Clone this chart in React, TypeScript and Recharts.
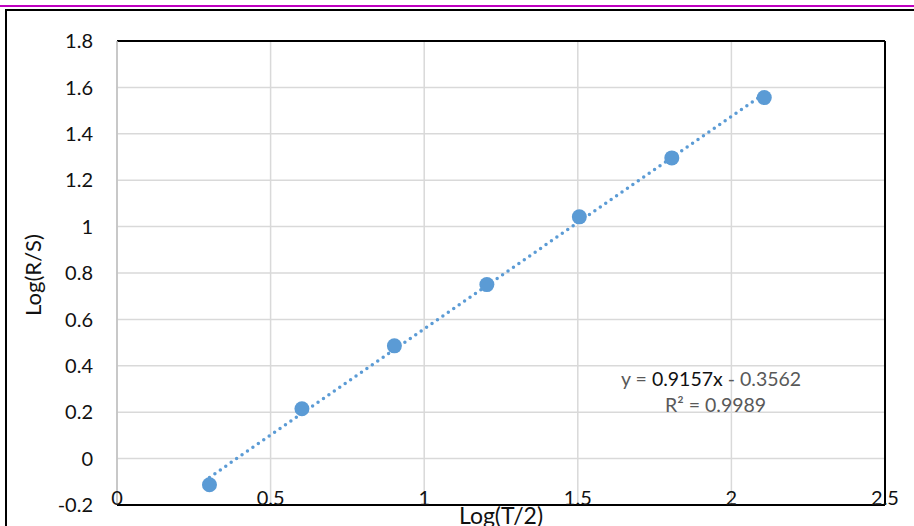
import React from "react";
import {
  ScatterChart,
  Scatter,
  XAxis,
  YAxis,
  CartesianGrid,
  ReferenceLine,
} from "recharts";

const logT2 = [0.301, 0.602, 0.903, 1.204, 1.505, 1.806, 2.107];
const logRS = [-0.113, 0.215, 0.486, 0.75, 1.042, 1.296, 1.556];

// trendline end points
const trendX = [0.301, 2.107];
const trendY = [-0.081, 1.573];

const xTicks = [0, 0.5, 1, 1.5, 2, 2.5];
const yTicks = [-0.2, 0, 0.2, 0.4, 0.6, 0.8, 1, 1.2, 1.4, 1.6, 1.8];

const BLUE = "#5B9BD5";
const FONT = "Lato, 'Open Sans', sans-serif";

const points = logT2.map((x, i) => ({ x, y: logRS[i] }));
const trend = trendX.map((x, i) => ({ x, y: trendY[i] }));

function XTick({ x, y, payload }: any) {
  return (
    <text x={x} y={y} textAnchor="middle" fontSize={20} fill="#111" fontFamily={FONT}>
      {payload.value}
    </text>
  );
}

function Dot(props: any) {
  return <circle cx={props.cx} cy={props.cy} r={7.5} fill={BLUE} />;
}

export default function App() {
  return (
    <div
      style={{
        position: "fixed",
        left: 0,
        top: 0,
        width: 914,
        height: 526,
        background: "#fff",
        overflow: "hidden",
        fontFamily: FONT,
      }}
    >
      <div
        style={{
          position: "absolute",
          left: 0,
          top: 5,
          width: 914,
          borderTop: "2px solid #c000c0",
        }}
      />
      <div
        style={{
          position: "absolute",
          left: 5,
          top: 9,
          width: 940,
          height: 560,
          borderLeft: "2px solid #000",
          borderTop: "2px solid #000",
        }}
      />
      <div style={{ position: "absolute", left: 0, top: 0 }}>
        <ScatterChart
          width={914}
          height={526}
          margin={{ top: 41, right: 29, bottom: 0, left: 0 }}
        >
          <CartesianGrid stroke="#d9d9d9" strokeWidth={1.5} />
          <XAxis
            type="number"
            dataKey="x"
            domain={[0, 2.5]}
            ticks={xTicks}
            height={21}
            axisLine={{ stroke: "#000", strokeWidth: 2 }}
            tickLine={false}
            tickSize={0}
            tickMargin={0}
            tick={<XTick />}
            interval={0}
          />
          <YAxis
            type="number"
            dataKey="y"
            domain={[-0.2, 1.8]}
            ticks={yTicks}
            width={117}
            axisLine={{ stroke: "#bfbfbf", strokeWidth: 1.5 }}
            tickLine={false}
            tickSize={0}
            tickMargin={24}
            tick={{ fontSize: 20, fill: "#111", fontFamily: FONT }}
            interval={0}
          />
          <ReferenceLine y={1.8} stroke="#000" strokeWidth={2} />
          <ReferenceLine x={2.5} stroke="#000" strokeWidth={2} />
          <Scatter
            data={trend}
            line={{
              stroke: BLUE,
              strokeWidth: 3.5,
              strokeDasharray: "0 6.6",
              strokeLinecap: "round",
            }}
            shape={() => <g />}
            isAnimationActive={false}
          />
          <Scatter data={points} shape={<Dot />} isAnimationActive={false} />
        </ScatterChart>
      </div>
      <div
        style={{
          position: "absolute",
          left: 0,
          width: 1002,
          top: 502,
          textAlign: "center",
          fontSize: 23,
          color: "#111",
          lineHeight: "26px",
        }}
      >
        Log(T/2)
      </div>
      <div
        style={{
          position: "absolute",
          left: 33,
          top: 275,
          transform: "translate(-50%, -50%) rotate(-90deg)",
          fontSize: 22,
          color: "#111",
          whiteSpace: "nowrap",
          lineHeight: "24px",
        }}
      >
        Log(R/S)
      </div>
      <div
        style={{
          position: "absolute",
          left: 621,
          top: 367,
          fontSize: 19.5,
          color: "#595959",
          whiteSpace: "nowrap",
          lineHeight: "24px",
        }}
      >
        y = <span style={{ color: "#111" }}>0.9157x</span> - 0.3562
      </div>
      <div
        style={{
          position: "absolute",
          left: 665,
          top: 393,
          fontSize: 19.5,
          color: "#595959",
          whiteSpace: "nowrap",
          lineHeight: "24px",
        }}
      >
        R² = 0.9989
      </div>
    </div>
  );
}
